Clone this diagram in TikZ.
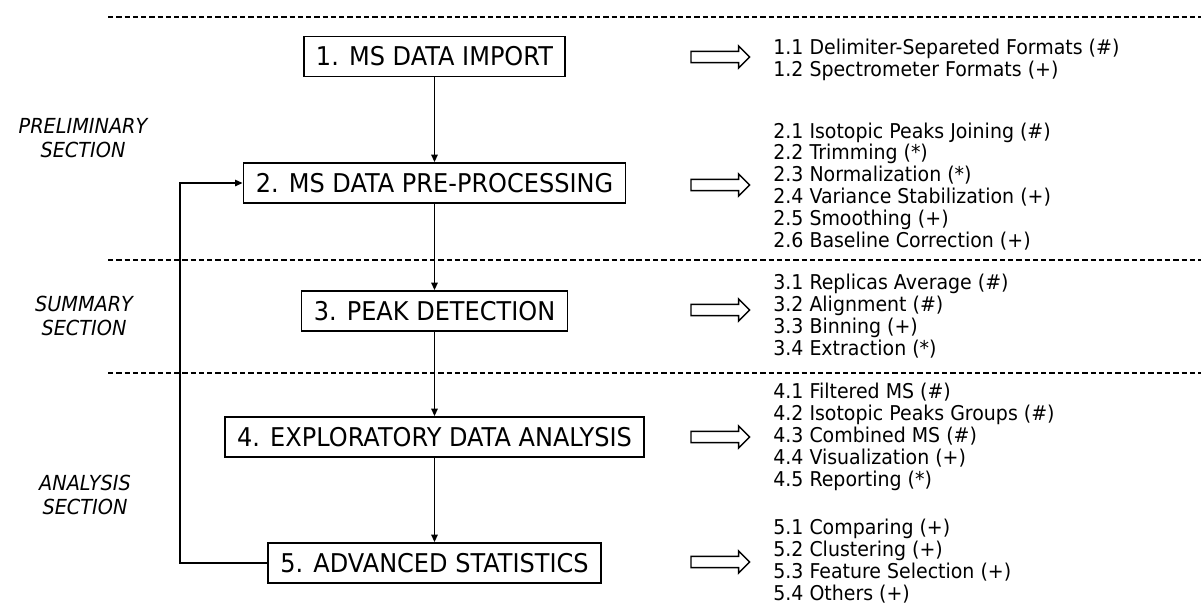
\documentclass[tikz,border=0pt]{standalone}
\usepackage{fontspec}
\setmainfont{DejaVu Sans}[FakeStretch=0.93]
\usetikzlibrary{arrows.meta,shapes.arrows}
\newcommand{\flowto}[2]{\draw[flowline] (#1) -- (#2);}
\tikzset{
  stage/.style={draw,line width=1pt,minimum height=22.7pt,inner xsep=7pt,font=\fontsize{14.7pt}{17pt}\selectfont},
  flowline/.style={line width=0.95pt,-{Triangle[length=4.3pt,width=3.6pt]}},
  sublist/.style={anchor=west,align=left,inner sep=0pt,font=\fontsize{11.6pt}{12.5pt}\selectfont},
  section/.style={align=center,inner sep=0pt,font=\fontsize{11.8pt}{13.6pt}\selectfont\itshape},
  detail/.style={single arrow,draw,line width=0.8pt,minimum height=33.4pt,inner xsep=0pt,inner ysep=2.8pt,single arrow head extend=3.1pt},
  divider/.style={line width=0.8pt,dash pattern=on 3pt off 1.7pt}
}
\begin{document}
\begin{tikzpicture}[x=0.02cm,y=-0.02cm]
			\useasboundingbox (0,0) rectangle (1201,610);
			\draw[divider] (108,17) -- (1201,17);
			\draw[divider] (108,260) -- (1201,260);
			\draw[divider] (108,373) -- (1201,373);
			
			\node[section](pre) at (83,138) {PRELIMINARY\\SECTION};
			\node[section](sum) at (84,316) {SUMMARY\\SECTION};
			\node[section](ana) at (85,495) {ANALYSIS\\SECTION};
			
			\node[stage](s1) at (434.5,56.5) {1. MS DATA IMPORT};
			\node[stage](s2) at (434.5,183) {2. MS DATA PRE-PROCESSING};
			\node[stage](s3) at (434.5,311) {3. PEAK DETECTION};
			\node[stage](s4) at (434.5,437) {4. EXPLORATORY DATA ANALYSIS};
			\node[stage](s5) at (434.5,563) {5. ADVANCED STATISTICS};
			
			\flowto{s1}{s2}
			\flowto{s2}{s3}
			\flowto{s3}{s4}
			\flowto{s4}{s5}
			\coordinate (back) at (180,563);
			\draw[flowline] (s5.west) -- (back) |- (s2.west);
			
			\node[detail](d1) at (717.5,57) {};
			\node[detail](d2) at (717.5,185) {};
			\node[detail](d3) at (717.5,310) {};
			\node[detail](d4) at (717.5,437) {};
			\node[detail](d5) at (717.5,562) {};
			
			\node[sublist](l1) at (773,60) {1.1 Delimiter-Separeted Formats (\#)\\1.2 Spectrometer Formats (+)};
			\node[sublist](l2) at (773,186.5) {2.1 Isotopic Peaks Joining (\#)\\2.2 Trimming (*)\\2.3 Normalization (*)\\2.4 Variance Stabilization (+)\\2.5 Smoothing (+)\\2.6 Baseline Correction (+)};
			\node[sublist](l3) at (773,316.5) {3.1 Replicas Average (\#)\\3.2 Alignment (\#)\\3.3 Binning (+)\\3.4 Extraction (*)};
			\node[sublist](l4) at (773,437) {4.1 Filtered MS (\#)\\4.2 Isotopic Peaks Groups (\#)\\4.3 Combined MS (\#)\\4.4 Visualization (+)\\4.5 Reporting (*)};
			\node[sublist](l5) at (773,561.5) {5.1 Comparing (+)\\5.2 Clustering (+)\\5.3 Feature Selection (+)\\5.4 Others (+)};
		\end{tikzpicture}
\end{document}
